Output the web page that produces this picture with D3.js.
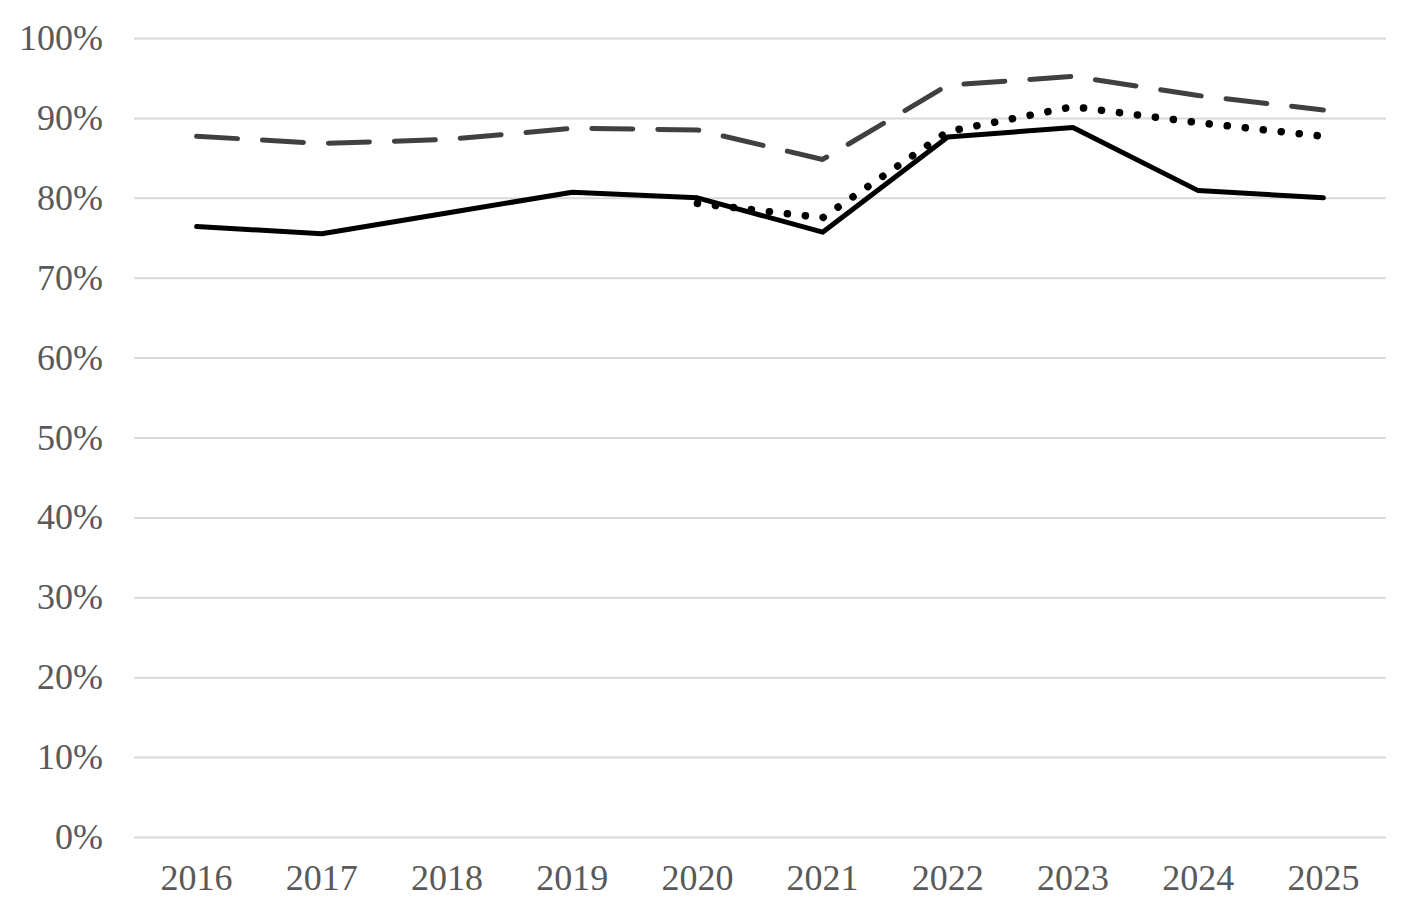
<!DOCTYPE html>
<html>
<head>
<meta charset="utf-8">
<script src="https://cdn.jsdelivr.net/npm/d3@7"></script>
<style>
  html, body { margin: 0; padding: 0; background: #ffffff; }
  svg { display: block; }
</style>
</head>
<body>
<svg id="chart" width="1425" height="921"></svg>
<script>
const years = ["2016","2017","2018","2019","2020","2021","2022","2023","2024","2025"];
const solidSeries = [76.4, 75.5, 78.1, 80.7, 80.0, 75.7, 87.6, 88.8, 80.9, 80.0];
const dashedSeries = [87.7, 86.8, 87.3, 88.7, 88.5, 84.8, 94.1, 95.2, 92.8, 91.0];
const dottedSeries = [null, null, null, null, 79.3, 77.5, 88.3, 91.4, 89.4, 87.7];
const yTicks = [0, 10, 20, 30, 40, 50, 60, 70, 80, 90, 100];

(function () {
const svg = d3.select("#chart");
const plotLeft = 134, plotRight = 1386, plotTop = 38, plotBottom = 837;

const x = d3.scaleBand().domain(years).range([plotLeft, plotRight]);
const y = d3.scaleLinear().domain([0, 100]).range([plotBottom, plotTop]);
const cx = d => x(d) + x.bandwidth() / 2;

const yAxis = d3.axisLeft(y).tickValues(yTicks).tickSize(-(plotRight - plotLeft)).tickPadding(31)
  .tickFormat(d => d + "%");
const gy = svg.append("g").attr("transform", `translate(${plotLeft},0)`).call(yAxis);
gy.select(".domain").remove();
gy.selectAll(".tick line").attr("stroke", "#d9d9d9").attr("stroke-width", 2);
gy.selectAll(".tick text")
  .attr("fill", "#595959")
  .style("font-family", "'Liberation Serif', 'Times New Roman', serif")
  .style("font-size", "36px");

const xAxis = d3.axisBottom(x).tickSize(0).tickPadding(27);
const gx = svg.append("g").attr("transform", `translate(0,${plotBottom})`).call(xAxis);
gx.select(".domain").remove();
gx.selectAll(".tick text")
  .attr("fill", "#595959")
  .style("font-family", "'Liberation Serif', 'Times New Roman', serif")
  .style("font-size", "36px");

const line = d3.line()
  .defined(d => d.v != null)
  .x(d => cx(d.year))
  .y(d => y(d.v));

const toPts = arr => years.map((yr, i) => ({ year: yr, v: arr[i] }));

svg.append("path")
  .datum(toPts(dashedSeries))
  .attr("d", line)
  .attr("fill", "none")
  .attr("stroke", "#404040")
  .attr("stroke-width", 5)
  .attr("stroke-linecap", "round")
  .attr("stroke-linejoin", "round")
  .attr("stroke-dasharray", "41,25");

svg.append("path")
  .datum(toPts(dottedSeries).filter(d => d.v != null))
  .attr("d", line)
  .attr("fill", "none")
  .attr("stroke", "#000000")
  .attr("stroke-width", 7.5)
  .attr("stroke-linecap", "round")
  .attr("stroke-linejoin", "round")
  .attr("stroke-dasharray", "0.1,18");

svg.append("path")
  .datum(toPts(solidSeries))
  .attr("d", line)
  .attr("fill", "none")
  .attr("stroke", "#000000")
  .attr("stroke-width", 5)
  .attr("stroke-linecap", "round")
  .attr("stroke-linejoin", "round");
})();
</script>
</body>
</html>
